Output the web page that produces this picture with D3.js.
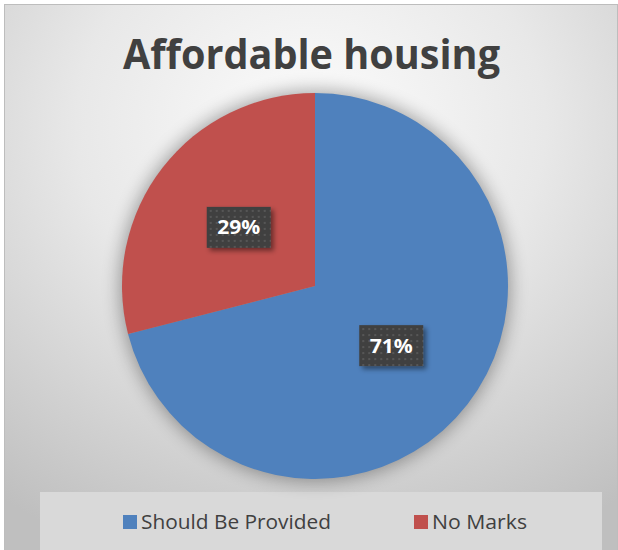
<!DOCTYPE html>
<html><head><meta charset="utf-8">
<script src="https://cdn.jsdelivr.net/npm/d3@7"></script>
<style>html,body{margin:0;padding:0;background:#fff;}svg{display:block;}</style>
</head><body>
<script>
const title = "Affordable housing";
const categories = ["Should Be Provided", "No Marks"];
const values = [71, 29];
const colors = ["#4F81BD", "#C0504D"];

const W = 618, H = 550;
const svg = d3.select("body").append("svg").attr("width", W).attr("height", H);
const defs = svg.append("defs");

const bg = defs.append("radialGradient").attr("id","bg").attr("cx","50%").attr("cy","22%").attr("r","85%");
bg.append("stop").attr("offset","0%").attr("stop-color","#fcfcfc");
bg.append("stop").attr("offset","45%").attr("stop-color","#e8e8e8");
bg.append("stop").attr("offset","100%").attr("stop-color","#bfbfbf");

const blur = defs.append("filter").attr("id","pieShadow").attr("x","-30%").attr("y","-30%").attr("width","160%").attr("height","160%");
blur.append("feGaussianBlur").attr("stdDeviation", 9);

const ds = defs.append("filter").attr("id","boxShadow").attr("x","-30%").attr("y","-30%").attr("width","170%").attr("height","170%");
ds.append("feDropShadow").attr("dx",3).attr("dy",3).attr("stdDeviation",2.5).attr("flood-color","#000").attr("flood-opacity",0.45);

const pat = defs.append("pattern").attr("id","dots").attr("width",6).attr("height",6).attr("patternUnits","userSpaceOnUse");
pat.append("rect").attr("width",6).attr("height",6).attr("fill","#404040");
pat.append("rect").attr("x",1).attr("y",1).attr("width",2).attr("height",2).attr("fill","#575757");

// background + frame
svg.append("rect").attr("x",4.5).attr("y",4.5).attr("width",W-5).attr("height",H-4).attr("fill","url(#bg)").attr("stroke","#bdbdbd").attr("stroke-width",1);

// title
svg.append("text").attr("x",123).attr("y",69)
  .attr("font-family","'Open Sans', sans-serif").attr("font-weight","bold").attr("fill","#404040")
  .attr("font-size",41).attr("textLength",377).attr("lengthAdjust","spacingAndGlyphs").text(title);

// legend band
svg.append("rect").attr("x",40).attr("y",492).attr("width",562).attr("height",58).attr("fill","#d9d9d9");

// pie
const cx = 315, cy = 286, R = 193;
const g = svg.append("g").attr("transform",`translate(${cx},${cy})`);
g.append("circle").attr("r",R+2).attr("fill","#000").attr("opacity",0.35).attr("filter","url(#pieShadow)");
const pie = d3.pie().sort(null).value(d => d)(values);
const arc = d3.arc().innerRadius(0).outerRadius(R);
g.selectAll("path.slice").data(pie).join("path").attr("class","slice")
  .attr("d", arc).attr("fill",(d,i)=>colors[i]);

const total = d3.sum(values);
const fmt = v => Math.round(v/total*100) + "%";
const lg = g.selectAll("g.lab").data(pie).join("g").attr("class","lab")
  .attr("transform", d => { const c = arc.centroid(d); return `translate(${c[0]},${c[1]})`; });
lg.append("rect").attr("x",-32).attr("y",-20).attr("width",64).attr("height",41)
  .attr("fill","url(#dots)").attr("filter","url(#boxShadow)");
lg.append("text").attr("x",-21.5).attr("y",7.5)
  .attr("font-family","'Open Sans', sans-serif").attr("font-weight","bold").attr("font-size",19.5)
  .attr("textLength",43).attr("lengthAdjust","spacingAndGlyphs")
  .attr("fill","#fff").text(d => fmt(d.value));

// legend
const legX = [123, 414];
const legW = [190, 95];
const leg = svg.selectAll("g.leg").data(categories).join("g").attr("class","leg")
  .attr("transform",(d,i)=>`translate(${legX[i]},515)`);
leg.append("rect").attr("width",14).attr("height",14).attr("fill",(d,i)=>colors[i]);
leg.append("text").attr("x",18).attr("y",13.5)
  .attr("font-family","'Open Sans', sans-serif").attr("font-size",20).attr("fill","#404040")
  .attr("textLength",(d,i)=>legW[i]).attr("lengthAdjust","spacingAndGlyphs").text(d=>d);
</script>
</body></html>
